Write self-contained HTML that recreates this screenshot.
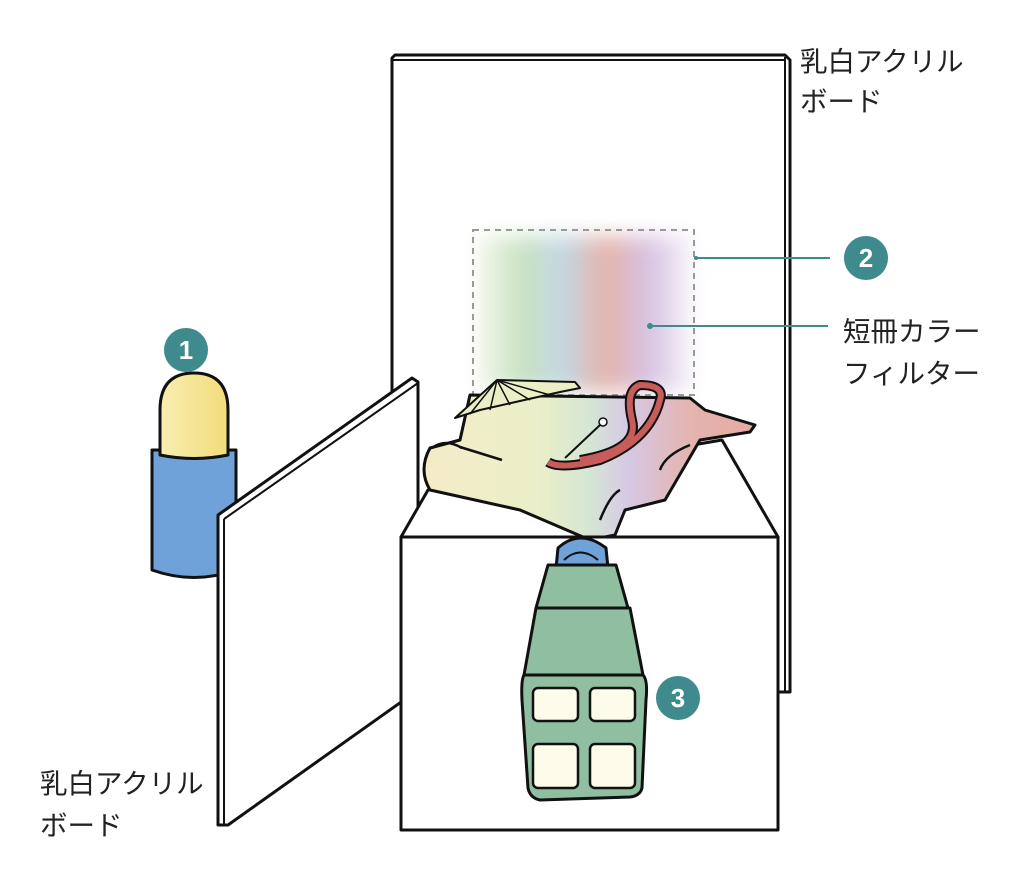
<!DOCTYPE html>
<html><head><meta charset="utf-8"><style>
html,body{margin:0;padding:0;background:#fff;}
svg{display:block;}
text{font-family:"Liberation Sans","Noto Sans CJK JP",sans-serif;}
</style></head><body>
<svg width="1024" height="896" viewBox="0 0 1024 896" xmlns="http://www.w3.org/2000/svg">
<defs>
<linearGradient id="filt" x1="0" x2="1" y1="0" y2="0">
<stop offset="0" stop-color="#f4f6ec"/>
<stop offset="0.2" stop-color="#c6e2be"/>
<stop offset="0.4" stop-color="#c0d6e4"/>
<stop offset="0.6" stop-color="#e6b0a4"/>
<stop offset="0.8" stop-color="#d4bee2"/>
<stop offset="1" stop-color="#f4f0f6"/>
</linearGradient>
<linearGradient id="cloth" x1="0" x2="1" y1="0" y2="0">
<stop offset="0" stop-color="#f5ecc8"/>
<stop offset="0.35" stop-color="#e9efc8"/>
<stop offset="0.5" stop-color="#d5e6d4"/>
<stop offset="0.62" stop-color="#d6c8e4"/>
<stop offset="0.8" stop-color="#e4b4b0"/>
<stop offset="1" stop-color="#e6aaa0"/>
</linearGradient>
<linearGradient id="bulb" x1="0" x2="1"><stop offset="0" stop-color="#f8eeb0"/><stop offset="1" stop-color="#f2dc7a"/></linearGradient>
<filter id="blur"><feGaussianBlur stdDeviation="10"/></filter>
</defs>
<g stroke="#111" stroke-width="3" stroke-linejoin="round" fill="none">
<polygon points="392,58 395,55 785,55 790,60 790,692 392,692" fill="#fff"/>
<line x1="392" y1="60" x2="785" y2="60" stroke-width="2"/>
<line x1="785" y1="57" x2="785" y2="692" stroke-width="2"/>
</g>
<rect x="478" y="236" width="212" height="156" fill="url(#filt)" filter="url(#blur)" opacity="0.95"/>
<rect x="473" y="230" width="221" height="165" fill="none" stroke="#999" stroke-width="2" stroke-dasharray="6,5"/>
<g stroke="#111" stroke-width="3" stroke-linejoin="round">
<path d="M152,450 L152,570 Q194,585 236,570 L236,450 Z" fill="#6fa2d8"/>
<path d="M160,455 L160,410 Q160,373 194,373 Q228,373 228,410 L228,455 Q194,462 160,455 Z" fill="url(#bulb)"/>
<polygon points="218,515 412,378 418,382 418,690 228,825 218,825" fill="#fff"/>
<line x1="224" y1="519" x2="418" y2="383" stroke-width="2"/>
<line x1="224" y1="519" x2="224" y2="825" stroke-width="2"/>
<polygon points="401,537 428,490 722,440 778,537" fill="#fff"/>
<path d="M470,395 L690,398 L705,410 L755,425 L750,432 L700,440 L665,500 L625,510 L615,535 L590,540 L520,510 L430,490 Q418,470 430,448 L460,440 Z" fill="url(#cloth)"/>
<path d="M432,448 Q445,438 462,448" fill="none" stroke-width="2.5"/>
<line x1="460" y1="447" x2="502" y2="460" stroke-width="2.5"/>
<path d="M600,520 Q610,495 620,490" fill="none" stroke-width="2.5"/>
<path d="M660,470 Q665,455 690,445" fill="none" stroke-width="2.5"/>
<path d="M455,418 L497,380 L575,382 L580,388 L560,392 L480,410 Z" fill="#ecefc6" stroke-width="2"/>
<path d="M497,380 L470,414 M497,380 L490,410 M497,380 L510,405 M497,380 L530,400 M497,380 L550,395" stroke-width="1.5" fill="none"/>
<path d="M548,462 Q560,470 600,460 Q650,440 660,400 Q665,385 640,385 Q625,390 632,420 Q640,450 580,460" fill="none" stroke="#111" stroke-width="10"/>
<path d="M548,462 Q560,470 600,460 Q650,440 660,400 Q665,385 640,385 Q625,390 632,420 Q640,450 580,460" fill="none" stroke="#c85c5a" stroke-width="6"/>
<line x1="565" y1="458" x2="600" y2="425" stroke-width="2"/>
<circle cx="603" cy="422" r="4" fill="#fff" stroke-width="1.5"/>
<rect x="401" y="537" width="377" height="293" fill="#fff"/>
<path d="M558,548 Q580,528 606,548 L608,568 L556,568 Z" fill="#6fa2d8"/>
<path d="M564,560 Q580,545 598,560" fill="none" stroke-width="2"/>
<path d="M548,565 L616,565 L628,608 L536,608 Z" fill="#8fbfa0"/>
<path d="M536,608 L630,608 L643,675 L524,675 Z" fill="#8fbfa0"/>
<path d="M524,675 L643,675 Q648,680 646,700 L642,788 Q640,796 630,797 L540,800 Q530,798 528,788 L522,700 Q521,680 524,675 Z" fill="#8fbfa0"/>
<g fill="#fdfbea" stroke-width="2.5">
<rect x="533" y="688" width="45" height="33" rx="5"/>
<rect x="590" y="688" width="45" height="33" rx="5"/>
<rect x="533" y="744" width="45" height="44" rx="5"/>
<rect x="590" y="744" width="45" height="44" rx="5"/>
</g>
</g>
<line x1="696" y1="258" x2="830" y2="258" stroke="#3f8a8c" stroke-width="2"/>
<line x1="650" y1="326" x2="828" y2="326" stroke="#3f8a8c" stroke-width="2"/>
<circle cx="650" cy="326" r="3" fill="#3f8a8c"/>
<circle cx="696" cy="258" r="2" fill="#3f8a8c"/>
<g fill="#3f8a8c"><circle cx="186" cy="350" r="22"/><circle cx="866" cy="258" r="22"/><circle cx="678" cy="698" r="22"/></g>
<g fill="#fff" font-weight="bold" font-size="26" text-anchor="middle">
<text x="186" y="359">1</text><text x="866" y="267">2</text><text x="678" y="707">3</text>
</g>
<g fill="#222" font-size="27.5">
<text x="800" y="71">乳白アクリル</text>
<text x="800" y="111">ボード</text>
<text x="843" y="341">短冊カラー</text>
<text x="843" y="383">フィルター</text>
<text x="40" y="793">乳白アクリル</text>
<text x="40" y="835">ボード</text>
</g>
</svg>
</body></html>
